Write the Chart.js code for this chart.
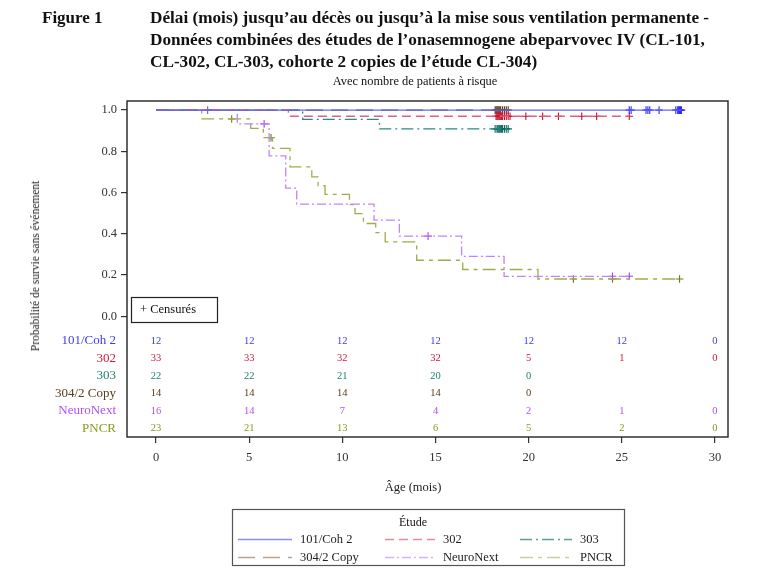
<!DOCTYPE html>
<html lang="fr">
<head>
<meta charset="utf-8">
<title>Figure 1 - Délai jusqu'au décès ou ventilation permanente</title>
<script src="https://cdn.jsdelivr.net/npm/chart.js@4.4.1/dist/chart.umd.min.js"></script>
<style>
  html, body { margin: 0; padding: 0; background: #fff; }
  body { width: 761px; height: 585px; position: relative; overflow: hidden; font-family: "Liberation Serif", "Times New Roman", serif; color: #111; }
  #km-chart { position: absolute; left: 0; top: 0; }
  .txt { position: absolute; white-space: nowrap; }
  .fig-no { left: 42px; top: 7px; font-weight: bold; font-size: 17px; line-height: 22px; }
  .fig-title { left: 150px; top: 7px; font-weight: bold; font-size: 17.2px; line-height: 22px; }
  .subtitle { left: 415px; top: 74px; transform: translateX(-50%); font-size: 12.4px; }
  .y-title { left: 35px; top: 266px; transform: translate(-50%, -50%) rotate(-90deg); font-size: 11.5px; color: #222; }
  .x-title { left: 413px; top: 480px; transform: translateX(-50%); font-size: 12.5px; color: #222; }
</style>
</head>
<body>
<canvas id="km-chart" width="761" height="585"></canvas>
<div class="txt fig-no">Figure 1</div>
<div class="txt fig-title">Délai (mois) jusqu’au décès ou jusqu’à la mise sous ventilation permanente -<br>Données combinées des études de l’onasemnogene abeparvovec IV (CL-101,<br>CL-302, CL-303, cohorte 2 copies de l’étude CL-304)</div>
<div class="txt subtitle">Avec nombre de patients à risque</div>
<div class="txt y-title">Probabilité de survie sans événement</div>
<div class="txt x-title">Âge (mois)</div>

<script>
'use strict';

// ── Data ──────────────────────────────────────────────────────
const studies   = ['101/Coh 2', '302', '303', '304/2 Copy', 'NeuroNext', 'PNCR'];
const yTicks    = [0, 0.2, 0.4, 0.6, 0.8, 1.0];
const xTicks    = [0, 5, 10, 15, 20, 25, 30];
const riskTimes = [0, 5, 10, 15, 20, 25, 30];

// step curves: time of each step (months) and survival after it
const coh101Times = [0, 28.2];
const coh101Surv  = [1, 1];
const s302Times   = [0, 7.1, 25.4];
const s302Surv    = [1, 0.970, 0.970];
const s303Times   = [0, 7.87, 11.99, 18.9];
const s303Surv    = [1, 0.955, 0.909, 0.909];
const s304Times   = [0, 18.9];
const s304Surv    = [1, 1];
const neuroTimes  = [0, 4.36, 6.07, 6.96, 7.55, 11.7, 13.06, 16.4, 18.68, 25.6];
const neuroSurv   = [1, 0.933, 0.778, 0.622, 0.544, 0.466, 0.389, 0.291, 0.194, 0.194];
const pncrTimes   = [0, 2.45, 5.08, 5.76, 6.25, 7.19, 8.36, 8.7, 9.07, 10.38, 10.68, 11.13, 11.79, 12.3, 13.99, 16.46, 20.5, 28.1];
const pncrSurv    = [1, 0.957, 0.911, 0.866, 0.814, 0.725, 0.676, 0.633, 0.591, 0.542, 0.498, 0.45, 0.406, 0.361, 0.272, 0.227, 0.181, 0.181];

// censored patients (months)
const coh101Censor = [25.4, 25.5, 26.3, 26.4, 26.5, 27.0, 27.9, 28.0, 28.05, 28.1, 28.15, 28.2];
const s302Censor   = [18.25, 18.3, 18.35, 18.4, 18.45, 18.5, 18.55, 18.6, 18.7, 18.8, 18.9, 19.0, 19.85, 20.75, 21.6, 22.85, 23.65, 25.4];
const s303Censor   = [18.2, 18.3, 18.35, 18.4, 18.45, 18.5, 18.55, 18.6, 18.7, 18.8, 18.9];
const s304Censor   = [18.2, 18.25, 18.3, 18.35, 18.4, 18.45, 18.5, 18.6, 18.7, 18.8, 18.9];
const neuroCensor  = [2.77, 5.8, 14.6, 24.5, 25.4];
const pncrCensor   = [4.06, 6.17, 22.4, 24.5, 28.1];

// patients at risk (null = not shown)
const coh101Risk = [12, 12, 12, 12, 12, 12, 0];
const s302Risk   = [33, 33, 32, 32, 5, 1, 0];
const s303Risk   = [22, 22, 21, 20, 0, null, null];
const s304Risk   = [14, 14, 14, 14, 0, null, null];
const neuroRisk  = [16, 14, 7, 4, 2, 1, 0];
const pncrRisk   = [23, 21, 13, 6, 5, 2, 0];

// ── Styles ────────────────────────────────────────────────────
const SERIF = '"Liberation Serif", "Times New Roman", serif';
const styles = [
  { line: '#6464ff', mark: '#2a2aff', text: '#3c3cf0', legend: '#8c8cff', dash: [] },
  { line: '#e0627a', mark: '#c8102e', text: '#d01a3a', legend: '#e88a98', dash: [9, 5] },
  { line: '#2e8a82', mark: '#0a6b60', text: '#1a7f70', legend: '#5a9e98', dash: [12, 4, 2, 4] },
  { line: '#7a5530', mark: '#5c3a14', text: '#5a3a18', legend: '#b8a48e', dash: [17, 8] },
  { line: '#c184ff', mark: '#a040f0', text: '#b050f0', legend: '#d8b0ff', dash: [9, 3, 2, 3] },
  { line: '#a2aa4c', mark: '#6d7a10', text: '#8a9a20', legend: '#ccd09a', dash: [13, 5, 4, 5] },
];

const curves  = [[coh101Times, coh101Surv], [s302Times, s302Surv], [s303Times, s303Surv],
                 [s304Times, s304Surv], [neuroTimes, neuroSurv], [pncrTimes, pncrSurv]];
const censors = [coh101Censor, s302Censor, s303Censor, s304Censor, neuroCensor, pncrCensor];
const risks   = [coh101Risk, s302Risk, s303Risk, s304Risk, neuroRisk, pncrRisk];

// survival level of a step curve at time t
function levelAt(times, surv, t) {
  let v = surv[0];
  for (let i = 0; i < times.length; i++) if (times[i] <= t) v = surv[i];
  return v;
}

// ── Datasets ──────────────────────────────────────────────────
const datasets = [];
curves.forEach(([times, surv], i) => {
  datasets.push({
    label: studies[i],
    data: times.map((t, j) => ({ x: t, y: surv[j] })),
    stepped: 'before',
    borderColor: styles[i].line,
    borderWidth: 1.3,
    borderDash: styles[i].dash,
    pointRadius: 0,
    fill: false,
  });
});
censors.forEach((list, i) => {
  datasets.push({
    label: studies[i] + ' censurés',
    data: list.map(t => ({ x: t, y: levelAt(curves[i][0], curves[i][1], t) })),
    showLine: false,
    pointStyle: 'cross',
    pointRadius: 3.8,
    pointBorderWidth: 1.1,
    borderColor: styles[i].mark,
    backgroundColor: styles[i].mark,
  });
});

// ── Plugin: frame, censor box, risk table, legend ─────────────
const kmDecor = {
  id: 'kmDecor',
  afterDraw(chart) {
    const { ctx, chartArea: a, scales: { x } } = chart;
    ctx.save();

    // frame
    ctx.strokeStyle = '#222';
    ctx.lineWidth = 1.4;
    ctx.setLineDash([]);
    ctx.strokeRect(a.left, a.top, a.right - a.left, a.bottom - a.top);

    // "+ Censurés" box
    ctx.fillStyle = '#fff';
    ctx.fillRect(a.left + 4, 297, 86, 25);
    ctx.lineWidth = 1.2;
    ctx.strokeRect(a.left + 4.5, 297.5, 86, 25);
    ctx.fillStyle = '#111';
    ctx.font = '12.5px ' + SERIF;
    ctx.textBaseline = 'middle';
    ctx.textAlign = 'left';
    ctx.fillText('+ Censurés', a.left + 13, 310);

    // risk table
    risks.forEach((row, i) => {
      const y = 341 + i * 17.5;
      ctx.fillStyle = styles[i].text;
      ctx.font = '13px ' + SERIF;
      ctx.textAlign = 'right';
      ctx.fillText(studies[i], a.left - 11, y);
      ctx.font = '10.5px ' + SERIF;
      ctx.textAlign = 'center';
      row.forEach((n, j) => {
        if (n === null) return;
        ctx.fillText(String(n), x.getPixelForValue(riskTimes[j]), y);
      });
    });

    // legend box
    ctx.strokeStyle = '#555';
    ctx.lineWidth = 1.2;
    ctx.strokeRect(232.5, 509.5, 392, 56);
    ctx.fillStyle = '#111';
    ctx.font = '12px ' + SERIF;
    ctx.textAlign = 'center';
    ctx.fillText('Étude', 413, 523);
    const cols = [238, 385, 520];
    const lineLen = [54, 50, 52];
    studies.forEach((name, i) => {
      const col = i % 3;
      const y = 539.5 + Math.floor(i / 3) * 18;
      ctx.beginPath();
      ctx.strokeStyle = styles[i].legend;
      ctx.lineWidth = 1.6;
      ctx.setLineDash(styles[i].dash);
      ctx.moveTo(cols[col], y);
      ctx.lineTo(cols[col] + lineLen[col], y);
      ctx.stroke();
      ctx.setLineDash([]);
      ctx.fillStyle = '#222';
      ctx.font = '12.5px ' + SERIF;
      ctx.textAlign = 'left';
      ctx.fillText(name, cols[col] + lineLen[col] + 8, y);
    });

    ctx.restore();
  },
};

// ── Chart ─────────────────────────────────────────────────────
new Chart(document.getElementById('km-chart'), {
  type: 'line',
  data: { datasets },
  plugins: [kmDecor],
  options: {
    responsive: false,
    animation: false,
    devicePixelRatio: 1,
    layout: { padding: { left: 87, top: 101, right: 33, bottom: 88 } },
    plugins: {
      legend: { display: false },
      tooltip: { enabled: false },
      title: { display: false },
    },
    scales: {
      x: {
        type: 'linear',
        min: -1.56,
        max: 30.7,
        afterBuildTicks: s => { s.ticks = xTicks.map(v => ({ value: v })); },
        afterFit: s => { s.height = 60; },
        border: { display: false },
        grid: { drawOnChartArea: false, drawTicks: true, tickLength: 6, color: '#333', lineWidth: 1.2 },
        ticks: { color: '#333', padding: 7, maxRotation: 0, font: { family: SERIF, size: 12.5 } },
      },
      y: {
        type: 'linear',
        min: -0.585,
        max: 1.044,
        afterBuildTicks: s => { s.ticks = yTicks.map(v => ({ value: v })); },
        afterFit: s => { s.width = 40; },
        border: { display: false },
        grid: { drawOnChartArea: false, drawTicks: true, tickLength: 6, color: '#333', lineWidth: 1.2 },
        ticks: { color: '#333', padding: 4, font: { family: SERIF, size: 12.5 }, callback: v => v.toFixed(1) },
      },
    },
  },
});
</script>
</body>
</html>
